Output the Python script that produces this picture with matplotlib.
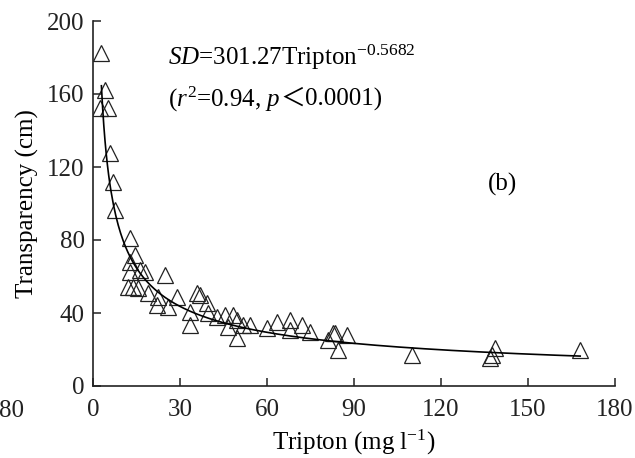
import numpy as np
import matplotlib
matplotlib.use("Agg")
import matplotlib.pyplot as plt

plt.rcParams['font.family'] = ['Liberation Serif', 'DejaVu Serif']
plt.rcParams['mathtext.fontset'] = 'custom'
plt.rcParams['mathtext.rm'] = 'Liberation Serif'
plt.rcParams['mathtext.it'] = 'Liberation Serif:italic'

# observed data (Tripton mg/l, Transparency cm)
tripton = [2.8, 4.1, 2.4, 5.2, 5.9, 6.9, 7.6, 12.8, 14.5, 12.8, 12.8, 16.2, 17.9, 24.8,
           12.1, 13.8, 15.5, 19.0, 22.4, 29.0, 35.9, 36.9, 22.1, 25.9, 33.4, 39.3, 39.7,
           42.8, 45.5, 48.3, 49.7, 46.6, 49.7, 51.7, 54.1, 33.4, 60.0, 63.4, 67.9, 72.1,
           74.8, 67.9, 82.8, 83.4, 87.6, 84.5, 81.0, 110.0, 138.6, 137.6, 136.9, 167.9]
transparency = [182.5, 162.2, 152.3, 152.3, 127.7, 111.8, 96.4, 81.1, 71.8, 67.9, 62.5, 63.6,
                62.5, 60.8, 54.2, 54.2, 53.7, 51.0, 48.8, 48.8, 51.0, 49.9, 44.4, 43.3, 40.5,
                45.5, 40.0, 37.8, 38.9, 38.9, 36.2, 32.3, 26.3, 33.4, 33.4, 33.4, 31.8, 35.1,
                36.2, 33.4, 29.6, 30.7, 29.0, 29.0, 27.9, 19.7, 25.2, 17.0, 20.8, 17.0, 15.3,
                19.7]

# fitted power model
coef_a = 301.27
coef_b = -0.5682
fit_x = np.linspace(2.9, 168, 400)
fit_y = coef_a * fit_x ** coef_b

xticks = [0, 30, 60, 90, 120, 150, 180]
yticks = [0, 40, 80, 120, 160, 200]

FS = 18

fig = plt.figure(figsize=(6.35, 4.58), dpi=100)
ax = fig.add_axes([93/635, 1-386/458, (615-93)/635, (386-21)/458])

ax.plot(tripton, transparency, linestyle='none', marker='^', markersize=12,
        markerfacecolor='none', markeredgecolor='#222222', markeredgewidth=0.9)
ax.plot(fit_x, fit_y, color='black', linewidth=1.2)

ax.set_xlim(0, 180)
ax.set_ylim(0, 200)
ax.set_xticks(xticks)
ax.set_yticks(yticks)
ax.spines['top'].set_visible(False)
ax.spines['right'].set_visible(False)
for s in ['left', 'bottom']:
    ax.spines[s].set_linewidth(1.2)
    ax.spines[s].set_color('#222222')
ax.tick_params(direction='in', length=6, width=1.1, labelsize=FS, colors='#222222')
ax.tick_params(axis='x', pad=9)
ax.tick_params(axis='y', pad=6)

ax.set_xlabel(r'Tripton (mg l$^{\mathregular{-1}}$)', fontsize=FS, labelpad=5)
ax.set_ylabel('Transparency (cm)', fontsize=FS, labelpad=6)

ax.text(0.143, 0.901, r'$\mathit{SD}$=301.27Tripton$^{\mathregular{-0.5682}}$',
        transform=ax.transAxes, fontsize=FS, va='center', ha='left')

y2 = 0.784
t1 = ax.text(0.143, y2, r'($\mathit{r}^{\mathregular{2}}$=0.94, $\mathit{p}$',
             transform=ax.transAxes, fontsize=FS, va='center', ha='left')
fig.canvas.draw()
bb1 = t1.get_window_extent()
inv = ax.transAxes.inverted()
x_after1 = inv.transform((bb1.x1, 0))[0]
t2 = ax.text(x_after1, y2 + 0.002, '＜', transform=ax.transAxes, fontsize=FS,
             va='center', ha='left', family=['Noto Sans CJK SC', 'DejaVu Sans'])
fig.canvas.draw()
bb2 = t2.get_window_extent()
x_after2 = inv.transform((bb2.x1, 0))[0]
ax.text(x_after2, y2, '0.0001)', transform=ax.transAxes, fontsize=FS,
        va='center', ha='left')

ax.text(0.785, 0.551, '(b)', transform=ax.transAxes, fontsize=FS, va='center', ha='center')

# fragment of neighbouring panel
fig.text(11/635, 1-411/458, '80', fontsize=FS, ha='center', va='center', color='#222222')

fig.savefig('out.png', dpi=100)
